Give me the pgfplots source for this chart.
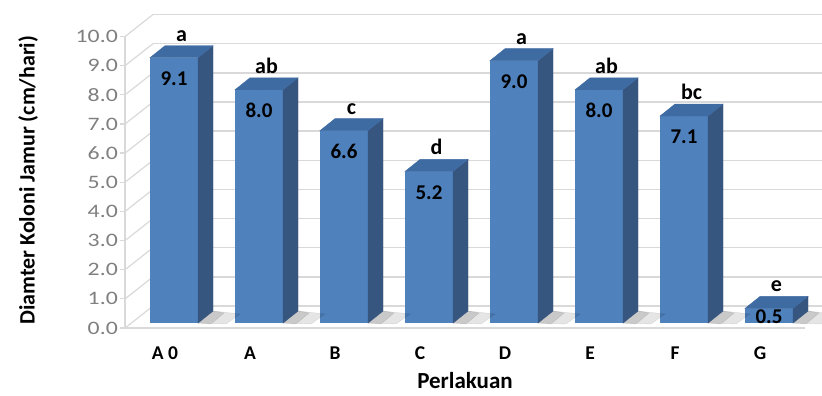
\documentclass[border=0pt]{standalone}
\usepackage{pgfplots}
\pgfplotsset{compat=1.18}
\usepackage{pgfplotstable}
\usepackage{fontspec}
\setmainfont{Carlito}
\newfontfamily\tickfont[FakeStretch=1.25]{Carlito}

\definecolor{barfront}{HTML}{4F81BD}
\definecolor{barside}{HTML}{36557F}
\definecolor{bartop}{HTML}{3F6BA3}
\definecolor{gridgray}{HTML}{D9D9D9}
\definecolor{ticktext}{HTML}{7F7F7F}

% colony diameter per treatment, with significance letters
\pgfplotstableread{
idx val sig
0 9.1 a
1 8.0 ab
2 6.6 c
3 5.2 d
4 9.0 a
5 8.0 ab
6 7.1 bc
7 0.5 e
}\diamdata

\begin{document}
\begin{tikzpicture}
\useasboundingbox (0,0) rectangle (822pt,396pt);
\begin{axis}[
  at={(131pt,73pt)}, anchor=south west,
  x=85pt, y=29.15pt,
  xmin=-0.506, xmax=7.49, ymin=0, ymax=11,
  clip=false,
  axis line style={draw=none},
  tick style={draw=none},
  major tick length=0pt,
  ytick={0,1,...,10},
  xtick={0,1,...,7},
  xticklabels={A 0,A,B,C,D,E,F,G},
  yticklabel style={font=\fontsize{19}{19}\tickfont, text=ticktext,
    anchor=east, inner sep=0pt, xshift=-13pt, yshift=-5pt,
    /pgf/number format/fixed, /pgf/number format/fixed zerofill,
    /pgf/number format/precision=1, /pgf/number format/assume math mode=true},
  xticklabel style={font=\fontsize{19.5}{19.5}\selectfont\bfseries,
    anchor=base, inner sep=0pt, xshift=-9pt, yshift=-37pt},
  xlabel={Perlakuan},
  xlabel style={at={(axis description cs:0.4914,-0.178)}, anchor=center,
    inner sep=0pt, font=\fontsize{23}{23}\selectfont\bfseries},
  ylabel={Diamter Koloni Jamur (cm/hari)},
  ylabel style={at={(axis description cs:-0.1515,0.4452)}, anchor=center,
    inner sep=0pt, font=\fontsize{22}{22}\selectfont\bfseries},
]
% back wall, side wall and floor of the 3D frame
\pgfplotsinvokeforeach{0,1,...,10}{
  \draw[gridgray, line width=1.4pt] (axis cs:-0.247,{#1+0.583}) -- (axis cs:7.70,{#1+0.583});
  \draw[gridgray, line width=1.2pt] (axis cs:-0.576,{#1-0.1715}) -- (axis cs:-0.247,{#1+0.583});
  \draw[gridgray, line width=1.2pt] (axis cs:-0.635,{#1-0.1715}) -- (axis cs:-0.576,{#1-0.1715});
}
\draw[gridgray, line width=1.2pt] (axis cs:-0.576,-0.1715) -- (axis cs:-0.576,9.8285);
\draw[gridgray, line width=1.4pt] (axis cs:-0.576,-0.1715) -- (axis cs:7.424,-0.1715);

% front faces of the bars
\addplot[ybar, bar width=48pt, bar shift=0pt, fill=barfront, draw=none,
  visualization depends on={y \as \rawy},
  nodes near coords={\pgfmathprintnumber[fixed,fixed zerofill,precision=1,assume math mode=true]{\pgfplotspointmeta}},
  every node near coord/.append style={font=\fontsize{21}{21}\selectfont\bfseries,
    text=black, anchor=center, inner sep=0pt, yshift={-min(21,17.5*\rawy)}},
] table[x=idx, y=val] {\diamdata};

% side and top faces, plus a soft shadow on the floor
\addplot[only marks, mark=*, mark size=0pt, scatter,
  visualization depends on={y \as \rawy},
  scatter/@pre marker code/.code={%
    \pgfmathsetlengthmacro\barh{29.15pt*\rawy}%
    \fill[black, opacity=0.10]
      (24pt,-\barh) -- (39pt,{12pt-\barh}) -- (66pt,{9pt-\barh}) -- (52pt,{-1pt-\barh}) -- cycle;
    \fill[black, opacity=0.12]
      (24pt,-\barh) -- (39pt,{12pt-\barh}) -- (50pt,{10pt-\barh}) -- (37pt,{-1pt-\barh}) -- cycle;
    \fill[barside] (24pt,0pt) -- (39pt,12pt) -- (39pt,{12pt-\barh}) -- (24pt,-\barh) -- cycle;
    \fill[bartop] (-24pt,0pt) -- (24pt,0pt) -- (39pt,12pt) -- (-9pt,12pt) -- cycle;
  },
  scatter/@post marker code/.code={},
] table[x=idx, y=val] {\diamdata};

% significance letters
\addplot[draw=none, mark=none, point meta=explicit symbolic,
  nodes near coords={\pgfplotspointmeta},
  every node near coord/.append style={font=\fontsize{22}{22}\selectfont\bfseries,
    text=black, anchor=base, inner sep=0pt, xshift=7.5pt, yshift=16.5pt},
] table[x=idx, y=val, meta=sig] {\diamdata};
\end{axis}
\end{tikzpicture}
\end{document}
